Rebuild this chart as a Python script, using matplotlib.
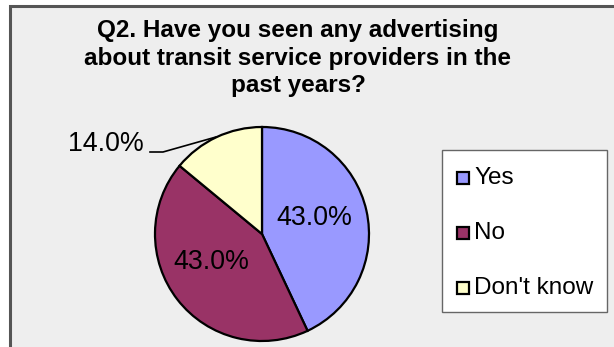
import matplotlib
matplotlib.use("Agg")
import matplotlib.pyplot as plt
from matplotlib.patches import Rectangle

categories = ["Yes", "No", "Don't know"]
shares = [43.0, 43.0, 14.0]
colors = ["#9999FF", "#993366", "#FFFFCC"]
title = "Q2. Have you seen any advertising\nabout transit service providers in the\npast years?"

W, H = 614, 347
fig = plt.figure(figsize=(W / 100, H / 100), dpi=100)
fig.patch.set_facecolor("white")
ax = fig.add_axes([0, 0, 1, 1])
ax.set_xlim(0, W)
ax.set_ylim(0, H)
ax.set_aspect("equal")
ax.axis("off")

def Y(y):
    # pixel row (from top) -> data y
    return H - y

font = "Liberation Sans"

# chart area frame
ax.add_patch(Rectangle((10, Y(400)), 700, 394, facecolor="#EEEEEE",
                       edgecolor="#555555", linewidth=2.2, zorder=0))

# title
ax.text(298, Y(58), title, ha="center", va="center", fontsize=17.5,
        fontweight="bold", family=font, linespacing=1.24, color="black")

# pie
cx, cy, r = 262, Y(234), 107
wedges, _ = ax.pie(shares, colors=colors, startangle=90, counterclock=False,
                   center=(cx, cy), radius=r, frame=True,
                   wedgeprops=dict(edgecolor="black", linewidth=1.6))
ax.set_xlim(0, W)
ax.set_ylim(0, H)
ax.axis("off")

# value labels
ax.text(314, Y(218), f"{shares[0]:.1f}%", ha="center", va="center",
        fontsize=19.3, family=font)
ax.text(211, Y(262), f"{shares[1]:.1f}%", ha="center", va="center",
        fontsize=19.3, family=font)
ax.text(144, Y(144), f"{shares[2]:.1f}%", ha="right", va="center",
        fontsize=19.3, family=font)
ax.plot([150, 163, 216], [Y(152), Y(152), Y(137)], color="black", lw=1.2)

# legend box
ax.add_patch(Rectangle((442, Y(312)), 165, 162, facecolor="white",
                       edgecolor="#666666", linewidth=1.0, zorder=3))
for i, (lab, col) in enumerate(zip(categories, colors)):
    yc = 178 + i * 55
    ax.add_patch(Rectangle((457, Y(yc) - 6), 12, 12, facecolor=col,
                           edgecolor="black", linewidth=1.6, zorder=4))
    ax.text(474, Y(yc), lab, ha="left", va="center", fontsize=17.5,
            family=font, zorder=4)

fig.savefig("out.png", dpi=100)
